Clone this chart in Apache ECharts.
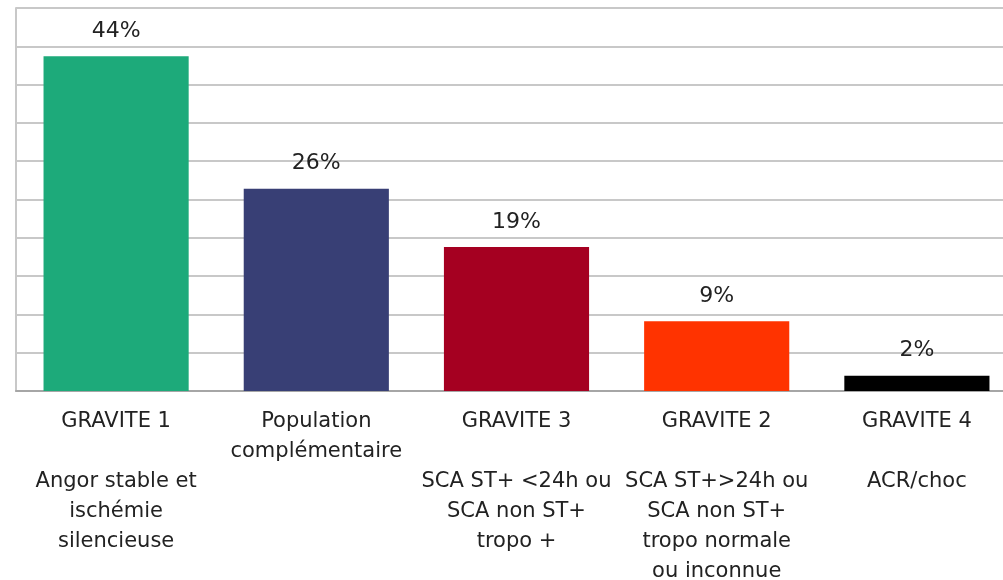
<!DOCTYPE html>
<html>
<head>
<meta charset="utf-8">
<script src="https://cdn.jsdelivr.net/npm/echarts@6/dist/echarts.min.js"></script>
<style>
  html, body { margin: 0; padding: 0; background: #fff; overflow: hidden; }
  #chart { width: 1003px; height: 580px; }
</style>
</head>
<body>
<div id="chart"></div>
<script>
// catégories (axe x)
const categories = [
  'GRAVITE 1\n\nAngor stable et\nischémie\nsilencieuse',
  'Population\ncomplémentaire',
  'GRAVITE 3\n\nSCA ST+ <24h ou\nSCA non ST+\ntropo +',
  'GRAVITE 2\n\nSCA ST+>24h ou\nSCA non ST+\ntropo normale\nou inconnue',
  'GRAVITE 4\n\nACR/choc'
]
// pourcentages
const values = [43.7, 26.4, 18.8, 9.1, 2.0]
const barColors = ['#1daa7a', '#383f75', '#a50021', '#ff3300', '#000000']

const chart = echarts.init(document.getElementById('chart'))
const option = {
  animation: false,
  grid: { left: 16, right: -14, top: 8, bottom: 189, containLabel: false, outerBoundsMode: 'none' },
  xAxis: {
    type: 'category',
    data: categories,
    axisTick: { show: false },
    axisLine: { lineStyle: { color: '#a6a6a6', width: 2 } },
    axisLabel: {
      interval: 0,
      margin: 16,
      color: '#222',
      fontFamily: 'DejaVu Sans',
      fontSize: 21,
      lineHeight: 30,
      align: 'center'
    }
  },
  yAxis: {
    type: 'value',
    min: 0,
    max: 50,
    interval: 5,
    axisLabel: { show: false },
    axisTick: { show: false },
    axisLine: { show: true, lineStyle: { color: '#c8c8c8', width: 2 } },
    splitLine: { lineStyle: { color: '#c8c8c8', width: 2 } }
  },
  series: [{
    type: 'bar',
    barWidth: '72.5%',
    data: values.map((v, i) => ({ value: v, itemStyle: { color: barColors[i] } })),
    label: {
      show: true,
      position: 'top',
      distance: 14,
      color: '#222',
      fontFamily: 'DejaVu Sans',
      fontSize: 22,
      formatter: p => Math.round(p.value) + '%'
    }
  }]
}
chart.setOption(option)
</script>
</body>
</html>
